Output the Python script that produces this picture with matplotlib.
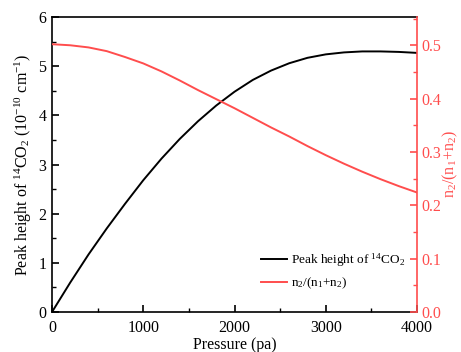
import matplotlib
matplotlib.use("Agg")
import matplotlib.pyplot as plt
from matplotlib.ticker import MultipleLocator, FormatStrFormatter

plt.rcParams['font.family'] = ['Liberation Serif', 'DejaVu Serif']
plt.rcParams['mathtext.fontset'] = 'custom'
plt.rcParams['mathtext.rm'] = 'Liberation Serif'
plt.rcParams['mathtext.it'] = 'Liberation Serif:italic'
plt.rcParams['mathtext.bf'] = 'Liberation Serif:bold'

pressure = [0, 200, 400, 600, 800, 1000, 1200, 1400, 1600, 1800, 2000,
            2200, 2400, 2600, 2800, 3000, 3200, 3400, 3600, 3800, 4000]
peak_height = [0.0, 0.60, 1.17, 1.70, 2.20, 2.68, 3.12, 3.52, 3.88, 4.20, 4.48,
               4.72, 4.91, 5.06, 5.17, 5.24, 5.28, 5.30, 5.30, 5.29, 5.27]
ratio = [0.502, 0.500, 0.496, 0.489, 0.478, 0.466, 0.451, 0.434, 0.416, 0.399,
         0.382, 0.364, 0.346, 0.329, 0.311, 0.294, 0.278, 0.263, 0.249, 0.236, 0.224]

red = '#ff4d4d'
fs = 11.5

fig = plt.figure(figsize=(4.61, 3.52), dpi=100)
ax = fig.add_axes([0.1128, 0.1136, 0.7918, 0.8381])
ax2 = ax.twinx()

l1, = ax.plot(pressure, peak_height, color='black', lw=1.4,
              label='Peak height of $^{\\mathrm{14}}$CO$_{\\mathrm{2}}$')
l2, = ax2.plot(pressure, ratio, color=red, lw=1.4,
               label='n$_{\\mathrm{2}}$/(n$_{\\mathrm{1}}$+n$_{\\mathrm{2}}$)')

ax.set_xlim(0, 4000)
ax.set_ylim(0, 6)
ax2.set_ylim(0, 0.553)

ax.xaxis.set_major_locator(MultipleLocator(1000))
ax.xaxis.set_minor_locator(MultipleLocator(500))
ax.yaxis.set_major_locator(MultipleLocator(1))
ax.yaxis.set_minor_locator(MultipleLocator(0.5))
ax2.yaxis.set_major_locator(MultipleLocator(0.1))
ax2.yaxis.set_minor_locator(MultipleLocator(0.05))
ax2.yaxis.set_major_formatter(FormatStrFormatter('%.1f'))

ax.tick_params(axis='y', which='major', direction='in', length=5, width=1.2,
               labelsize=fs, right=False, pad=4)
ax.tick_params(axis='x', which='major', direction='in', length=5, width=1.2,
               labelsize=fs, top=False, pad=6)
ax.tick_params(axis='both', which='minor', direction='in', length=3, width=1.0,
               top=False, right=False)
ax2.tick_params(axis='y', which='major', direction='in', length=5, width=1.2,
                labelsize=fs, colors=red, pad=3)
ax2.tick_params(axis='y', which='minor', direction='in', length=3, width=1.0,
                colors=red)

for s in ['left', 'top', 'bottom']:
    ax2.spines[s].set_visible(False)
for s in ['left', 'top', 'bottom', 'right']:
    ax.spines[s].set_linewidth(1.2)
ax.spines['right'].set_visible(False)
ax2.spines['right'].set_color(red)
ax2.spines['right'].set_linewidth(1.2)

ax.set_xlabel('Pressure (pa)', fontsize=fs, labelpad=0.5)
ax.set_ylabel('Peak height of $^{\\mathrm{14}}$CO$_{\\mathrm{2}}$ (10$^{\\mathrm{-10}}$ cm$^{\\mathrm{-1}}$)',
              fontsize=fs, labelpad=3)
ax2.set_ylabel('n$_{\\mathrm{2}}$/(n$_{\\mathrm{1}}$+n$_{\\mathrm{2}}$)', fontsize=fs,
               color=red, labelpad=0)

ax2.legend(handles=[l1, l2], loc='lower right', frameon=False, fontsize=9.5,
           bbox_to_anchor=(1.0, 0.03), handlelength=2.0, handletextpad=0.3,
           labelspacing=0.55)

fig.savefig('out.png', dpi=100)
